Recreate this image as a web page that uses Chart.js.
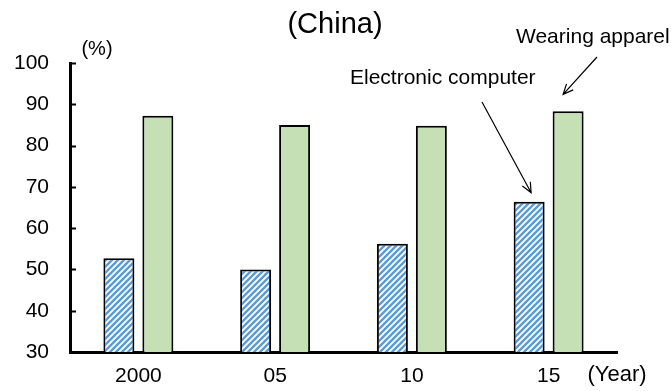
<!DOCTYPE html>
<html>
<head>
<meta charset="utf-8">
<script src="https://cdn.jsdelivr.net/npm/chart.js@4/dist/chart.umd.min.js"></script>
<style>
  html, body { margin: 0; padding: 0; background: #fff; }
  #wrap { width: 672px; height: 391px; position: relative; }
</style>
</head>
<body>
<div id="wrap"><canvas id="c"></canvas></div>
<script>
// Share of exports (%), China
const years = ['2000', '05', '10', '15'];
const computerShare = [52.7, 50.0, 56.2, 66.4];
const apparelShare = [87.2, 85.0, 84.8, 88.3];
const yTicks = [30, 40, 50, 60, 70, 80, 90, 100];

const FONT = '"Liberation Sans", Arial, sans-serif';

// Diagonal hatch used for the computer bars
function hatch() {
  const s = 6;
  const c = document.createElement('canvas');
  c.width = s; c.height = s;
  const g = c.getContext('2d');
  g.fillStyle = '#ffffff';
  g.fillRect(0, 0, s, s);
  g.strokeStyle = '#5b9bd5';
  g.lineWidth = 2.4;
  g.beginPath();
  g.moveTo(-1, s + 1); g.lineTo(s + 1, -1);
  g.moveTo(-1, 1); g.lineTo(1, -1);
  g.moveTo(s - 1, s + 1); g.lineTo(s + 1, s - 1);
  g.stroke();
  return g.createPattern(c, 'repeat');
}

function arrow(ctx, x0, y0, x1, y1) {
  const a = Math.atan2(y1 - y0, x1 - x0);
  const h = 11, w = 0.42;
  ctx.beginPath();
  ctx.moveTo(x0, y0); ctx.lineTo(x1, y1);
  ctx.moveTo(x1 - h * Math.cos(a - w), y1 - h * Math.sin(a - w));
  ctx.lineTo(x1, y1);
  ctx.lineTo(x1 - h * Math.cos(a + w), y1 - h * Math.sin(a + w));
  ctx.stroke();
}

const decor = {
  id: 'decor',
  afterDraw(chart) {
    const ctx = chart.ctx;
    const ys = chart.scales.y;
    const area = chart.chartArea;
    ctx.save();
    // inward tick marks on the value axis
    ctx.strokeStyle = '#000';
    ctx.lineWidth = 2;
    yTicks.forEach(v => {
      const py = Math.round(ys.getPixelForValue(v)) + 0.5;
      ctx.beginPath();
      ctx.moveTo(area.left, py);
      ctx.lineTo(area.left + 6, py);
      ctx.stroke();
    });
    // texts
    ctx.fillStyle = '#000';
    ctx.textBaseline = 'middle';
    ctx.textAlign = 'center';
    ctx.font = '29px ' + FONT;
    ctx.fillText('(China)', 335, 25);
    ctx.font = '20px ' + FONT;
    ctx.fillText('(%)', 97, 49);
    ctx.font = '22px ' + FONT;
    ctx.fillText('(Year)', 617, 375);
    ctx.textAlign = 'left';
    ctx.font = '21px ' + FONT;
    ctx.fillText('Electronic computer', 350, 78);
    ctx.fillText('Wearing apparel', 516, 37);
    // arrows pointing at the last pair of bars
    const bc = chart.getDatasetMeta(0).data[3];
    const ba = chart.getDatasetMeta(1).data[3];
    ctx.lineWidth = 1.2;
    arrow(ctx, 482, 102, bc.x + 2, bc.y - 9);
    arrow(ctx, 597, 57, ba.x - 5, ba.y - 17);
    ctx.restore();
  }
};

new Chart(document.getElementById('c'), {
  type: 'bar',
  data: {
    labels: years,
    datasets: [
      {
        label: 'Electronic computer',
        data: computerShare,
        backgroundColor: hatch(),
        borderColor: '#000',
        borderWidth: 2,
        categoryPercentage: 0.57,
        barPercentage: 0.795
      },
      {
        label: 'Wearing apparel',
        data: apparelShare,
        backgroundColor: '#c5e0b4',
        borderColor: '#000',
        borderWidth: 2,
        categoryPercentage: 0.57,
        barPercentage: 0.795
      }
    ]
  },
  options: {
    responsive: true,
    maintainAspectRatio: false,
    animation: false,
    devicePixelRatio: 1,
    layout: { padding: { top: 63, right: 55, left: 0, bottom: 0 } },
    plugins: {
      legend: { display: false },
      tooltip: { enabled: false },
      title: { display: false }
    },
    scales: {
      x: {
        grid: { display: false, drawTicks: false },
        border: { display: true, color: '#000', width: 3 },
        ticks: { color: '#000', font: { family: FONT, size: 21 }, padding: 12, maxRotation: 0 },
        afterFit(s) { s.height = 39; }
      },
      y: {
        min: 30,
        max: 100,
        grid: { display: false, drawTicks: false },
        border: { display: true, color: '#000', width: 3 },
        afterBuildTicks(s) { s.ticks = yTicks.map(v => ({ value: v })); },
        ticks: { color: '#000', font: { family: FONT, size: 21 }, padding: 21 },
        afterFit(s) { s.width = 70; }
      }
    }
  },
  plugins: [decor]
});
</script>
</body>
</html>
